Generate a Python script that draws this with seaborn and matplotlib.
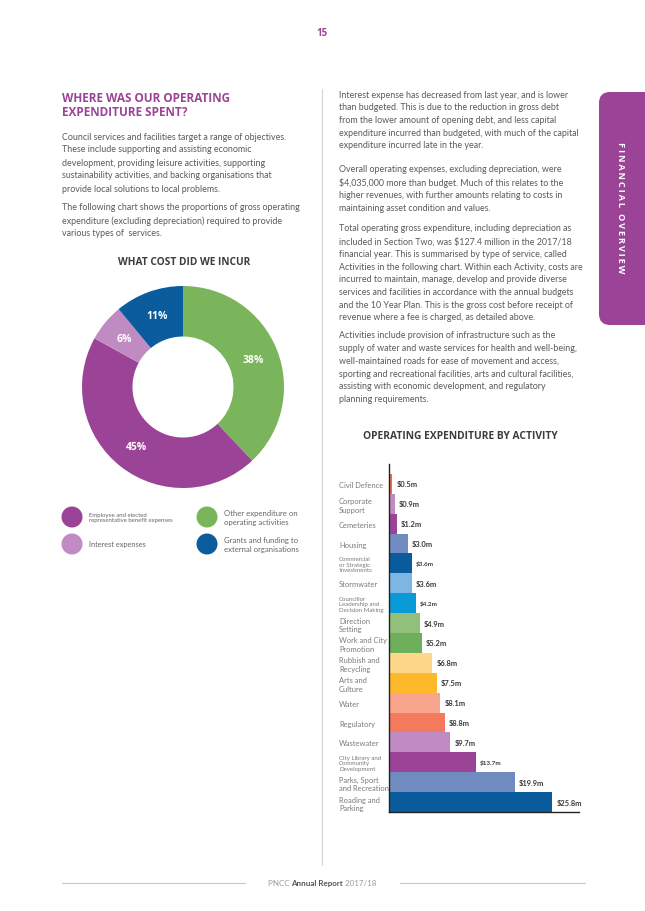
import matplotlib
matplotlib.use("Agg")
import matplotlib.pyplot as plt
import seaborn as sns
from matplotlib.patches import Circle, FancyBboxPatch

# ---------- data ----------
cost_groups = ["Other expenditure on operating activities",
               "Employee and elected representative benefit expenses",
               "Interest expenses",
               "Grants and funding to external organisations"]
cost_share = [38, 45, 6, 11]
cost_colors = ["#7ab55c", "#9b4497", "#c08bc2", "#0b5c9c"]

activities = ["Civil Defence", "Corporate\nSupport", "Cemeteries", "Housing",
              "Commercial\nor Strategic\nInvestments", "Stormwater",
              "Councillor\nLeadership and\nDecision Making", "Direction\nSetting",
              "Work and City\nPromotion", "Rubbish and\nRecycling", "Arts and\nCulture",
              "Water", "Regulatory", "Wastewater",
              "City Library and\nCommunity\nDevelopment", "Parks, Sport\nand Recreation",
              "Roading and\nParking"]
spend = [0.5, 0.9, 1.2, 3.0, 3.6, 3.6, 4.2, 4.9, 5.2, 6.8, 7.5, 8.1, 8.8, 9.7, 13.7, 19.9, 25.8]
bar_colors = ["#f26d50", "#c08bc2", "#9b4497", "#6f8bc0", "#0b5c9c", "#7db6e3",
              "#0a9ad7", "#92c07a", "#6daf5b", "#fdd88a", "#fdb92a", "#f9a48c",
              "#f47a5e", "#c08bc2", "#9b4497", "#6f8bc0", "#0b5c9c"]

left_heading = ["WHERE WAS OUR OPERATING", "EXPENDITURE SPENT?"]
left_p1 = ["Council services and facilities target a range of objectives.",
           "These include supporting and assisting economic",
           "development, providing leisure activities, supporting",
           "sustainability activities, and backing organisations that",
           "provide local solutions to local problems."]
left_p2 = ["The following chart shows the proportions of gross operating",
           "expenditure (excluding depreciation) required to provide",
           "various types of  services."]
right_p1 = ["Interest expense has decreased from last year, and is lower",
            "than budgeted. This is due to the reduction in gross debt",
            "from the lower amount of opening debt, and less capital",
            "expenditure incurred than budgeted, with much of the capital",
            "expenditure incurred late in the year."]
right_p2 = ["Overall operating expenses, excluding depreciation, were",
            "$4,035,000 more than budget. Much of this relates to the",
            "higher revenues, with further amounts relating to costs in",
            "maintaining asset condition and values."]
right_p3 = ["Total operating gross expenditure, including depreciation as",
            "included in Section Two, was $127.4 million in the 2017/18",
            "financial year. This is summarised by type of service, called",
            "Activities in the following chart. Within each Activity, costs are",
            "incurred to maintain, manage, develop and provide diverse",
            "services and facilities in accordance with the annual budgets",
            "and the 10 Year Plan. This is the gross cost before receipt of",
            "revenue where a fee is charged, as detailed above."]
right_p4 = ["Activities include provision of infrastructure such as the",
            "supply of water and waste services for health and well-being,",
            "well-maintained roads for ease of movement and access,",
            "sporting and recreational facilities, arts and cultural facilities,",
            "assisting with economic development, and regulatory",
            "planning requirements."]

PURPLE = "#9b4497"
BODY = "#5a5a5a"
DARK = "#3d3d3d"
BODY_FONT = ["Lato", "DejaVu Sans"]
HEAD_FONT = ["Open Sans", "DejaVu Sans"]

sns.set_theme(style="white")
plt.rcParams["font.family"] = BODY_FONT

W, H = 645, 912
fig = plt.figure(figsize=(W / 100, H / 100), dpi=100)
fig.patch.set_facecolor("white")
renderer = fig.canvas.get_renderer()


def text_width(s, size, **kw):
    t = fig.text(0, 0, s, fontsize=size, **kw)
    w = t.get_window_extent(renderer).width
    t.remove()
    return w


def fit_size(s, target_px, **kw):
    return 10 * target_px / text_width(s, 10, **kw)


# page-sized background axes, pixel coords
bg = fig.add_axes([0, 0, 1, 1], zorder=-1)
bg.set_xlim(0, W)
bg.set_ylim(H, 0)
bg.axis("off")


def para(x, y0, lines, step, **kw):
    for i, s in enumerate(lines):
        bg.text(x, y0 + i * step, s, ha="left", va="center", **kw)


body_size = fit_size(left_p1[0], 226, family=BODY_FONT)
head_size = fit_size(left_heading[0], 168, family=HEAD_FONT, weight="bold")

# page number, divider
bg.text(322, 33, "15", ha="center", va="center", color=PURPLE, family=HEAD_FONT,
        weight="bold", fontsize=7)
bg.plot([322, 322], [90, 866], color="#d4d4d4", lw=0.8)

# footer
bg.plot([62, 245], [884, 884], color="#c8c8c8", lw=0.8)
bg.plot([400, 585], [884, 884], color="#c8c8c8", lw=0.8)
foot = [("PNCC ", "#9a9a9a", "normal"), ("Annual Report", "#555555", "bold"),
        (" 2017/18", "#9a9a9a", "normal")]
foot_fs = 5.8
widths = [text_width(s.replace(" ", "\u00a0"), foot_fs, weight=wt) for s, _, wt in foot]
fx = 322 - sum(widths) / 2
for (s, col, wt), w in zip(foot, widths):
    bg.text(fx, 884, s.replace(" ", "\u00a0"), ha="left", va="center", color=col,
            fontsize=foot_fs, weight=wt)
    fx += w

# side tab
bg.add_patch(FancyBboxPatch((599, 93), 80, 233, boxstyle="round,pad=0,rounding_size=11",
                            facecolor=PURPLE, edgecolor="none"))
tab_text = "\u2009".join("FINANCIAL OVERVIEW")
tab_size = fit_size(tab_text, 130, family=HEAD_FONT, weight="bold")
bg.text(620, 208, tab_text, rotation=-90, ha="center", va="center", color="white",
        family=HEAD_FONT, weight="bold", fontsize=tab_size)

# left column text
para(62, 98, left_heading, 15, color=PURPLE, family=HEAD_FONT, weight="bold",
     fontsize=head_size)
para(62, 137, left_p1, 13, color=BODY, fontsize=body_size)
para(62, 208, left_p2, 13, color=BODY, fontsize=body_size)

# right column text
para(339, 95, right_p1, 12.7, color=BODY, fontsize=body_size)
para(339, 170, right_p2, 12.7, color=BODY, fontsize=body_size)
para(339, 229, right_p3, 12.7, color=BODY, fontsize=body_size)
para(339, 336, right_p4, 12.7, color=BODY, fontsize=body_size)

# ---------- donut ----------
t1 = "WHAT COST DID WE INCUR"
bg.text(184, 263, t1, ha="center", va="center", color=DARK, family=HEAD_FONT,
        weight="bold", fontsize=fit_size(t1, 132, family=HEAD_FONT, weight="bold"))

ax_d = fig.add_axes([82 / W, (H - 489) / H, 202 / W, 202 / H])
ax_d.pie(cost_share, colors=cost_colors, startangle=90, counterclock=False,
         radius=1, autopct="%.0f%%", pctdistance=0.75,
         wedgeprops=dict(width=0.5, edgecolor="none"),
         textprops=dict(color="white", weight="bold", fontsize=7.5, family=HEAD_FONT))
ax_d.set_xlim(-1, 1)
ax_d.set_ylim(-1, 1)
ax_d.set_aspect("equal")

# legend
leg_items = [
    (72, 518, cost_colors[1], "Employee and elected\nrepresentative benefit expenses", 4.3),
    (72, 545, cost_colors[2], "Interest expenses", 5.3),
    (207, 518, cost_colors[0], "Other expenditure on\noperating activities", 5.6),
    (207, 545, cost_colors[3], "Grants and funding to\nexternal organisations", 5.6),
]
for cx, cy, col, lab, fs in leg_items:
    bg.add_patch(Circle((cx, cy), 10.5, facecolor=col, edgecolor="none"))
    bg.text(cx + 17, cy, lab, ha="left", va="center", color="#666666", fontsize=fs,
            linespacing=1.2)

# ---------- bar chart ----------
t2 = "OPERATING EXPENDITURE BY ACTIVITY"
bg.text(460, 437, t2, ha="center", va="center", color=DARK, family=HEAD_FONT,
        weight="bold", fontsize=fit_size(t2, 195, family=HEAD_FONT, weight="bold"))

ax_b = fig.add_axes([389 / W, (H - 813) / H, (579 - 389) / W, (813 - 465) / H])
sns.barplot(x=spend, y=activities, hue=activities, palette=bar_colors, legend=False,
            width=1, saturation=1, orient="h", ax=ax_b, linewidth=0)
ax_b.set_xlim(0, 30)
ax_b.set_ylim(16.5, -1.0)
ax_b.set_facecolor("none")
ax_b.set_xticks([])
ax_b.set_xlabel("")
ax_b.set_ylabel("")
for side in ["top", "right"]:
    ax_b.spines[side].set_visible(False)
for side in ["left", "bottom"]:
    ax_b.spines[side].set_color("#222222")
    ax_b.spines[side].set_linewidth(1.0)

ax_b.tick_params(axis="y", length=0, pad=36)
for lab in ax_b.get_yticklabels():
    small = lab.get_text().count("\n") >= 2
    lab.set_ha("left")
    lab.set_color("#7a7a7a")
    lab.set_fontsize(4.4 if small else 5.4)
    lab.set_linespacing(1.25 if not small else 1.1)

for cont, act in zip(ax_b.containers, activities):
    small = act.count("\n") >= 2
    ax_b.bar_label(cont, fmt="${:.1f}m", padding=3, color="#3a3a3a", weight="bold",
                   fontsize=4.6 if small else 5.4)

fig.savefig("out.png", dpi=100, facecolor="white")
